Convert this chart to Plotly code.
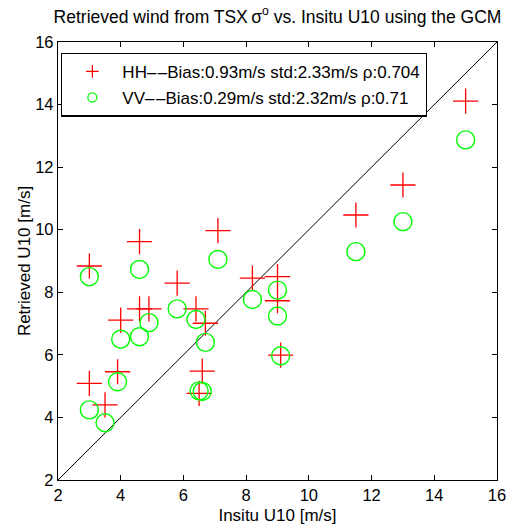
import plotly.graph_objects as go

insitu = [3.0, 4.6, 7.1, 5.8, 4.9, 4.0, 4.6, 6.4, 6.7, 8.2, 9.0, 9.0, 9.1, 11.5, 13.0, 15.0, 3.0, 3.5, 3.9, 6.6, 6.5]
hh_retrieved = [8.84, 9.62, 9.97, 8.29, 7.47, 7.11, 7.47, 7.47, 7.01, 8.45, 8.50, 7.73, 5.99, 10.47, 11.43, 14.11, 5.09, 4.40, 5.46, 5.48, 4.77]
vv_retrieved = [8.50, 8.73, 9.05, 7.47, 7.03, 6.50, 6.58, 7.13, 6.40, 7.77, 8.07, 7.24, 5.97, 9.30, 10.26, 12.87, 4.24, 3.83, 5.14, 4.83, 4.85]
diag = [2, 16]
ticks = [2, 4, 6, 8, 10, 12, 14, 16]

dash = "\u2013\u200a\u2013"
hh_label = "HH" + dash + "Bias:0.93m/s std:2.33m/s \u03c1:0.704"
vv_label = "VV" + dash + "Bias:0.29m/s std:2.32m/s \u03c1:0.71"
title = "Retrieved wind from TSX\u2009\u03c3<sup>o</sup> vs. Insitu U10 using the GCM"

RED = "#ff0000"
GREEN = "#00ff00"

fig = go.Figure()
fig.add_trace(go.Scatter(x=diag, y=diag, mode="lines", line=dict(color="black", width=1),
                         showlegend=False, hoverinfo="skip"))
fig.add_trace(go.Scatter(x=insitu, y=hh_retrieved, mode="markers", name=hh_label, legendgroup="hh",
                         showlegend=False,
                         marker=dict(symbol="cross-thin-open", size=18,
                                     line=dict(color=RED, width=1.3), color=RED)))
fig.add_trace(go.Scatter(x=insitu, y=vv_retrieved, mode="markers", name=vv_label, legendgroup="vv",
                         showlegend=False,
                         marker=dict(symbol="circle-open", size=18,
                                     line=dict(color=GREEN, width=1.4), color=GREEN)))
# legend entries (smaller symbols, like the reference legend)
fig.add_trace(go.Scatter(x=[None], y=[None], mode="markers", name=hh_label, legendgroup="hh",
                         marker=dict(symbol="cross-thin-open", size=9,
                                     line=dict(color=RED, width=1.2), color=RED)))
fig.add_trace(go.Scatter(x=[None], y=[None], mode="markers", name=vv_label, legendgroup="vv",
                         marker=dict(symbol="circle-open", size=9,
                                     line=dict(color=GREEN, width=1.3), color=GREEN)))

axis_common = dict(range=[2, 16], tickvals=ticks, ticks="inside", ticklen=5, tickcolor="black",
                   showline=True, linecolor="black", linewidth=1.3, mirror="ticks",
                   showgrid=False, zeroline=False, tickfont=dict(size=16.5, color="black"),
                   automargin=False, ticklabeloverflow="allow")

fig.update_layout(
    width=507, height=525,
    margin=dict(l=58, r=10, t=42, b=45),
    paper_bgcolor="white", plot_bgcolor="white",
    font=dict(family="Liberation Sans, Arial, sans-serif", size=17, color="black"),
    title=dict(text=title, xref="paper", x=0.5, xanchor="center", y=0.98, yanchor="top",
               font=dict(size=17.5, color="black")),
    xaxis=dict(title=dict(text="Insitu U10 [m/s]", font=dict(size=17), standoff=8), **axis_common),
    yaxis=dict(title=dict(text="Retrieved U10 [m/s]", font=dict(size=17), standoff=0), **axis_common),
    legend=dict(x=0.007, y=0.976, xanchor="left", yanchor="top",
                bordercolor="black", borderwidth=1.3, bgcolor="white",
                font=dict(size=17, color="black"), itemwidth=50, tracegroupgap=1),
    showlegend=True,
)

fig.write_html("out.html", config={"displayModeBar": False},
               post_script="document.body.style.margin='0px';")
